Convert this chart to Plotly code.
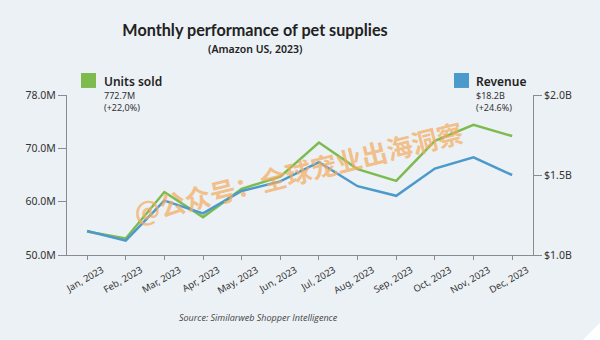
import plotly.graph_objects as go

# Monthly figures for pet supplies on Amazon US, 2023
months = ["Jan, 2023", "Feb, 2023", "Mar, 2023", "Apr, 2023", "May, 2023", "Jun, 2023",
          "Jul, 2023", "Aug, 2023", "Sep, 2023", "Oct, 2023", "Nov, 2023", "Dec, 2023"]
units_sold_m = [54.4, 53.1, 61.8, 57.1, 62.4, 64.7, 71.1, 66.1, 63.9, 71.4, 74.4, 72.3]
revenue_b = [1.15, 1.09, 1.34, 1.26, 1.40, 1.46, 1.58, 1.43, 1.37, 1.54, 1.61, 1.50]

units_tickvals = [50, 60, 70, 80]
units_ticktext = ["50.0M", "60.0M", "70.0M", "78.0M"]
revenue_tickvals = [1.0, 1.5, 2.0]
revenue_ticktext = ["$1.0B", "$1.5B", "$2.0B"]

units_total = "772.7M"
units_change = "(+22,0%)"
revenue_total = "$18.2B"
revenue_change = "(+24.6%)"

GREEN = "#7DBB4F"
BLUE = "#4C9ACB"
BG = "#ECF1F5"
AXIS = "#8C8C8C"
FONT = "Noto Sans"

x_idx = list(range(len(months)))

fig = go.Figure()
fig.add_trace(go.Scatter(x=x_idx, y=units_sold_m, mode="lines", name="Units sold",
                         line=dict(color=GREEN, width=2.5), yaxis="y"))
fig.add_trace(go.Scatter(x=x_idx, y=revenue_b, mode="lines", name="Revenue",
                         line=dict(color=BLUE, width=2.5), yaxis="y2"))

tickfont = dict(family=FONT, size=10.5, color="#333333")

fig.update_layout(
    width=600, height=340,
    margin=dict(l=67, r=67, t=95, b=85),
    paper_bgcolor=BG, plot_bgcolor=BG,
    showlegend=False,
    title=dict(text="Monthly performance of pet supplies",
               x=0.425, xanchor="center", y=1 - 30 / 340, yanchor="middle",
               font=dict(family="Lato", size=16.2, weight=700, color="#222222")),
    xaxis=dict(range=[-0.52, 11.54], tickvals=x_idx, ticktext=months,
               tickangle=-30, tickfont=dict(family=FONT, size=9.5, color="#333333"),
               ticklabelshift=15, ticklabelstandoff=1,
               showgrid=False, zeroline=False, showline=True, linecolor=AXIS, linewidth=1,
               ticks="outside", ticklen=4, tickcolor=AXIS),
    yaxis=dict(range=[50, 80], tickvals=units_tickvals, ticktext=units_ticktext,
               tickfont=tickfont, showgrid=False, zeroline=False,
               showline=True, linecolor=AXIS, linewidth=1,
               ticks="outside", ticklen=8, tickcolor=AXIS),
    yaxis2=dict(range=[1.0, 2.0], tickvals=revenue_tickvals, ticktext=revenue_ticktext,
                overlaying="y", side="right", tickfont=tickfont,
                showgrid=False, zeroline=False,
                showline=True, linecolor=AXIS, linewidth=1,
                ticks="outside", ticklen=8, tickcolor=AXIS),
)

# Legend blocks with yearly totals
fig.add_shape(type="rect", xref="paper", yref="paper", x0=0.030, x1=0.0622, y0=1.044, y1=1.1375,
              fillcolor=GREEN, line=dict(width=0))
fig.add_shape(type="rect", xref="paper", yref="paper", x0=0.8305, x1=0.8627, y0=1.044, y1=1.1375,
              fillcolor=BLUE, line=dict(width=0))

def label(text, x, y, size, weight=400, color="#222222"):
    fig.add_annotation(text=text, xref="paper", yref="paper",
                       x=x, y=y, xanchor="left", yanchor="middle", showarrow=False,
                       align="left",
                       font=dict(family=FONT, size=size, weight=weight, color=color))

label("Units sold", 0.0751, 1.0875, 12, weight=600)
label(f"{units_total}<br>{units_change}", 0.0751, 0.959, 9, color="#333333")
label("Revenue", 0.8734, 1.0875, 12, weight=600)
label(f"{revenue_total}<br>{revenue_change}", 0.8734, 0.959, 9, color="#333333")

# Subtitle and source
fig.add_annotation(text="(Amazon US, 2023)", xref="paper", yref="paper",
                   x=0.4034, y=1.29, xanchor="center", yanchor="middle", showarrow=False,
                   font=dict(family=FONT, size=10.5, weight=600, color="#222222"))
fig.add_annotation(text="<i>Source: Similarweb Shopper Intelligence</i>", xref="paper", yref="paper",
                   x=0.412, y=-0.3875, xanchor="center", yanchor="middle", showarrow=False,
                   font=dict(family="Open Sans", size=9, color="#444444"))

# Watermark
fig.add_annotation(text="<b>@公众号：全球宠业出海洞察</b>", xref="paper", yref="paper",
                   x=0.4957, y=0.519, xanchor="center", yanchor="middle", showarrow=False,
                   textangle=-14,
                   font=dict(family="Noto Sans CJK SC", size=26, color="rgba(244,172,96,0.72)"))

# Folded page corner
fig.add_shape(type="path", xref="paper", yref="paper",
              path="M 1.107 -0.531 L 1.1438 -0.425 L 1.1438 -0.531 Z",
              fillcolor="white", line=dict(width=0))

fig.write_html("out.html")
